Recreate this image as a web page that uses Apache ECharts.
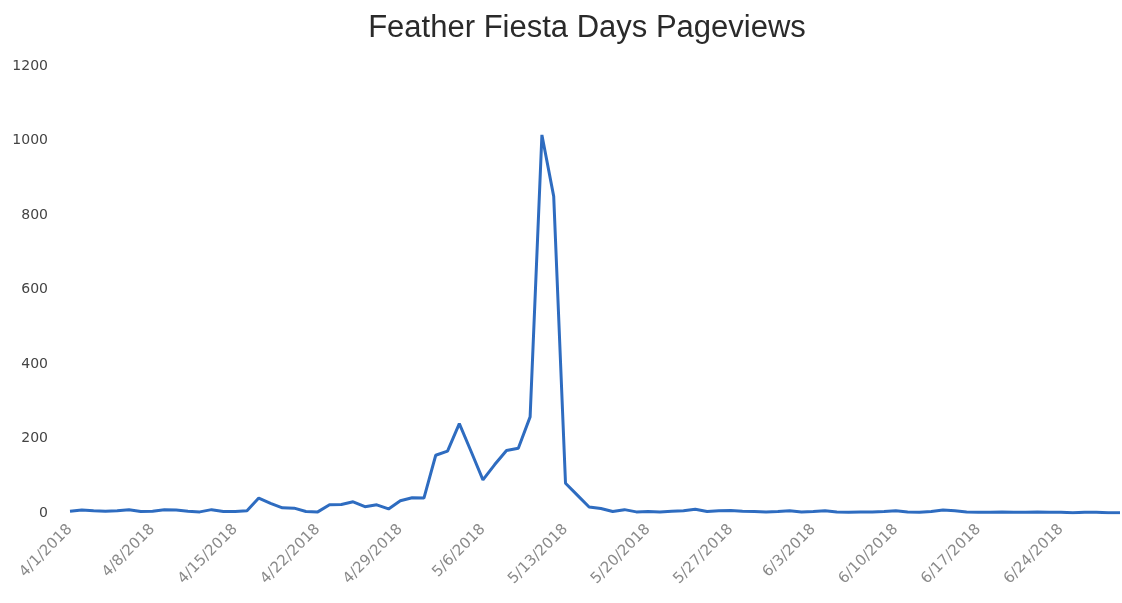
<!DOCTYPE html>
<html>
<head>
<meta charset="utf-8">
<script src="https://cdn.jsdelivr.net/npm/echarts@6/dist/echarts.min.js"></script>
<style>
  html, body { margin: 0; padding: 0; background: #fff; }
  #chart { width: 1122px; height: 603px; }
</style>
</head>
<body>
<div id="chart"></div>
<script>
// daily dates 4/1/2018 .. 6/29/2018
const dates = [
    '4/1/2018','4/2/2018','4/3/2018','4/4/2018','4/5/2018','4/6/2018','4/7/2018','4/8/2018','4/9/2018','4/10/2018',
    '4/11/2018','4/12/2018','4/13/2018','4/14/2018','4/15/2018','4/16/2018','4/17/2018','4/18/2018','4/19/2018','4/20/2018',
    '4/21/2018','4/22/2018','4/23/2018','4/24/2018','4/25/2018','4/26/2018','4/27/2018','4/28/2018','4/29/2018','4/30/2018',
    '5/1/2018','5/2/2018','5/3/2018','5/4/2018','5/5/2018','5/6/2018','5/7/2018','5/8/2018','5/9/2018','5/10/2018',
    '5/11/2018','5/12/2018','5/13/2018','5/14/2018','5/15/2018','5/16/2018','5/17/2018','5/18/2018','5/19/2018','5/20/2018',
    '5/21/2018','5/22/2018','5/23/2018','5/24/2018','5/25/2018','5/26/2018','5/27/2018','5/28/2018','5/29/2018','5/30/2018',
    '5/31/2018','6/1/2018','6/2/2018','6/3/2018','6/4/2018','6/5/2018','6/6/2018','6/7/2018','6/8/2018','6/9/2018',
    '6/10/2018','6/11/2018','6/12/2018','6/13/2018','6/14/2018','6/15/2018','6/16/2018','6/17/2018','6/18/2018','6/19/2018',
    '6/20/2018','6/21/2018','6/22/2018','6/23/2018','6/24/2018','6/25/2018','6/26/2018','6/27/2018','6/28/2018','6/29/2018'
];

const pageviews = [
    5, 8, 6, 5, 6, 9, 4, 5, 9, 8,
    5, 3, 9, 4, 4, 6, 40, 26, 14, 13,
    4, 3, 22, 23, 30, 17, 22, 11, 33, 41,
    40, 155, 166, 240, 165, 89, 130, 168, 174, 258,
    1015, 850, 80, 48, 16, 12, 4, 9, 3, 4,
    3, 5, 6, 10, 4, 6, 7, 5, 4, 3,
    4, 6, 3, 4, 6, 3, 2, 3, 3, 4,
    6, 3, 2, 4, 8, 6, 3, 2, 2, 3,
    2, 2, 3, 2, 2, 1, 2, 2, 1, 1
];

const yTicks = [0, 200, 400, 600, 800, 1000, 1200];

const chart = echarts.init(document.getElementById('chart'));

const option = {
    backgroundColor: '#fff',
    animation: false,
    title: {
        text: 'Feather Fiesta Days Pageviews',
        left: 582,
        textAlign: 'center',
        top: 8,
        textStyle: {
            fontFamily: 'Liberation Sans',
            fontSize: 31,
            fontWeight: 'normal',
            color: '#2a2a2a'
        }
    },
    grid: {
        left: 70,
        right: 2,
        top: 66,
        bottom: 90
    },
    xAxis: {
        type: 'category',
        data: dates,
        boundaryGap: false,
        axisLine: { show: false },
        axisTick: { show: false },
        axisLabel: {
            interval: 6,
            rotate: 45,
            margin: 14,
            fontFamily: 'DejaVu Sans',
            fontSize: 15,
            color: '#8a8a8a'
        }
    },
    yAxis: {
        type: 'value',
        min: yTicks[0],
        max: yTicks[yTicks.length - 1],
        interval: 200,
        axisLine: { show: false },
        axisTick: { show: false },
        splitLine: { show: false },
        axisLabel: {
            margin: 22,
            fontFamily: 'DejaVu Sans',
            fontSize: 14,
            color: '#444',
            formatter: v => String(v)
        }
    },
    series: [
        {
            name: 'Pageviews',
            type: 'line',
            data: pageviews,
            showSymbol: false,
            lineStyle: {
                color: '#2e6cc0',
                width: 3
            }
        }
    ]
};

chart.setOption(option);
</script>
</body>
</html>
